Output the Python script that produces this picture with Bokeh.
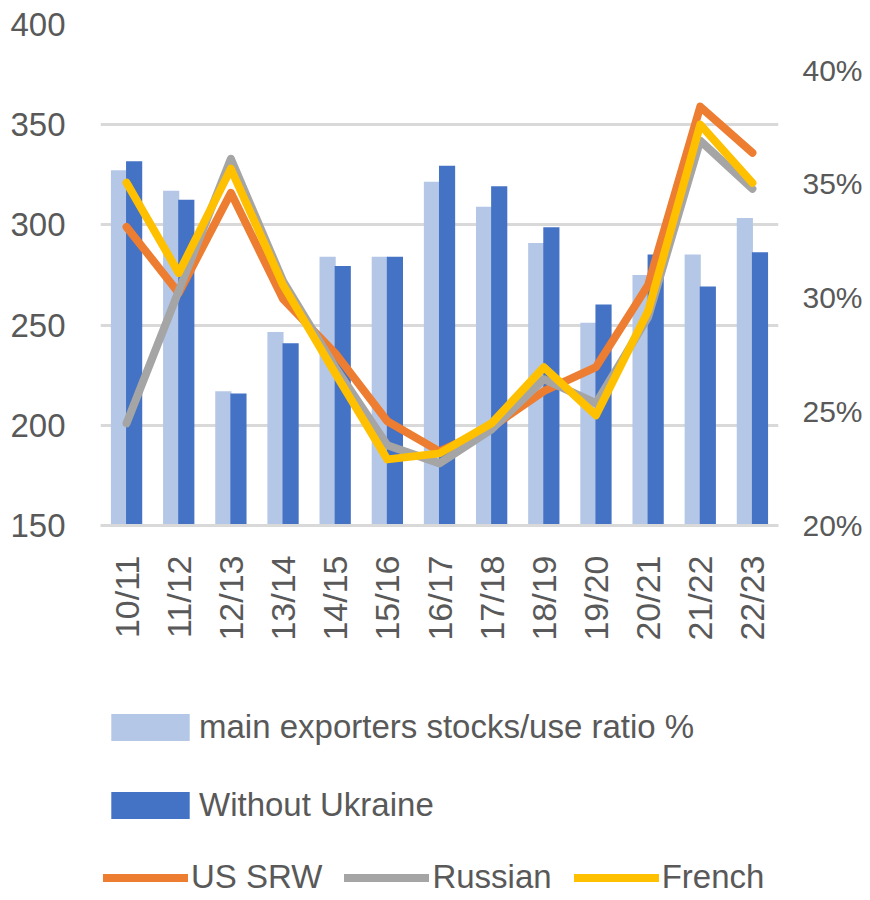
from bokeh.plotting import figure
from bokeh.models import Range1d, LinearAxis, Legend, LegendItem, FixedTicker, PrintfTickFormatter
from bokeh.transform import dodge
from bokeh.layouts import column
from bokeh.embed import file_html
from bokeh.resources import INLINE
import math

# ---- data ----
seasons = ["10/11", "11/12", "12/13", "13/14", "14/15", "15/16", "16/17",
           "17/18", "18/19", "19/20", "20/21", "21/22", "22/23"]
stocks_use_ratio = [35.6, 34.7, 25.9, 28.5, 31.8, 31.8, 35.1, 34.0, 32.4, 28.9, 31.0, 31.9, 33.5]
without_ukraine = [36.0, 34.3, 25.8, 28.0, 31.4, 31.8, 35.8, 34.9, 33.1, 29.7, 31.9, 30.5, 32.0]
us_srw = [299, 266, 316, 263, 236, 202, 187, 199, 217, 229, 270, 359, 336]
russian = [201, 267, 333, 272, 229, 190, 181, 198, 223, 211, 254, 342, 318]
french = [321, 276, 328, 270, 226, 183, 186, 201, 229, 205, 257, 350, 321]
left_ticks = [150, 200, 250, 300, 350, 400]
right_ticks = [20, 25, 30, 35, 40]

TXT = "#595959"
GRID = "#D9D9D9"
FONT = "Liberation Sans"
C_LIGHT, C_DARK = "#B4C7E7", "#4472C4"
C_US, C_RU, C_FR = "#ED7D31", "#A5A5A5", "#FFC000"

src = dict(season=seasons, ratio=stocks_use_ratio, wo=without_ukraine)


def draw_series(fig):
    rs = [
        fig.vbar(x=dodge("season", -0.145, range=fig.x_range), top="ratio", bottom=20,
                 width=0.31, source=src, y_range_name="pct", fill_color=C_LIGHT, line_color=None),
        fig.vbar(x=dodge("season", 0.145, range=fig.x_range), top="wo", bottom=20,
                 width=0.31, source=src, y_range_name="pct", fill_color=C_DARK, line_color=None),
    ]
    for ys, c in ((us_srw, C_US), (russian, C_RU), (french, C_FR)):
        rs.append(fig.line(seasons, ys, line_color=c, line_width=8,
                           line_join="round", line_cap="round"))
    return rs


W = 866
TOTAL_H = 896
TOP_H = 680
p = figure(x_range=seasons, y_range=Range1d(150, 400),
           width=W, height=TOP_H, output_backend="svg", toolbar_location=None,
           min_border_left=100, min_border_right=W - 778, min_border_top=24,
           min_border_bottom=TOP_H - 24 - 501, outline_line_color=None)
p.x_range.range_padding = 0
p.extra_y_ranges = {"pct": Range1d(20, 42)}
draw_series(p)

ya = p.yaxis[0]
ya.ticker = FixedTicker(ticks=left_ticks)
ra = LinearAxis(y_range_name="pct", ticker=FixedTicker(ticks=right_ticks),
                formatter=PrintfTickFormatter(format="%d%%"))
p.add_layout(ra, "right")
xa = p.xaxis[0]

for ax in (ya, ra, xa):
    ax.major_tick_line_color = None
    ax.minor_tick_line_color = None
    ax.major_tick_out = 0
    ax.major_tick_in = 0
    ax.minor_tick_out = 0
    ax.minor_tick_in = 0
    ax.major_label_text_font = FONT
    ax.major_label_text_color = TXT

ya.axis_line_color = None
ya.major_label_text_font_size = "33px"
ya.major_label_standoff = 35
ra.axis_line_color = None
ra.major_label_text_font_size = "30px"
ra.major_label_standoff = 24

xa.major_label_orientation = math.pi / 2
xa.axis_line_color = GRID
xa.axis_line_width = 3
xa.major_label_text_font_size = "34px"
xa.major_label_standoff = 30

p.xgrid.grid_line_color = None
p.ygrid.grid_line_color = GRID
p.ygrid.grid_line_width = 3
p.ygrid.ticker = FixedTicker(ticks=left_ticks)

# ---- legend panel: same series, drawn out of view, only their legend keys show ----
LEG_H = TOTAL_H - TOP_H
q = figure(width=W, height=LEG_H, output_backend="svg", toolbar_location=None,
           x_range=p.x_range, y_range=Range1d(1000, 1001),
           min_border=0, outline_line_color=None)
q.extra_y_ranges = {"pct": Range1d(1000, 1001)}
q.axis.visible = False
q.grid.visible = False
k1, k2, k3, k4, k5 = draw_series(q)

common = dict(padding=0, margin=0, border_line_color=None, background_fill_alpha=0,
              label_text_font=FONT, label_text_font_size="33px",
              label_text_color=TXT)
legA = Legend(items=[LegendItem(label="main exporters stocks/use ratio %", renderers=[k1]),
                     LegendItem(label="Without Ukraine", renderers=[k2])],
              location=(1, 72), orientation="vertical",
              glyph_width=98, glyph_height=34, label_height=27, spacing=40,
              label_standoff=0, **common)
legB = Legend(items=[LegendItem(label="US SRW", renderers=[k3]),
                     LegendItem(label="Russian", renderers=[k4]),
                     LegendItem(label="French", renderers=[k5])],
              location=(3, 0), orientation="horizontal",
              glyph_width=85, glyph_height=27, label_height=27, spacing=22,
              label_standoff=3, **common)
q.add_layout(legA, "center")
q.add_layout(legB, "center")

open("out.html", "w").write(file_html(column(p, q, spacing=0), INLINE))
